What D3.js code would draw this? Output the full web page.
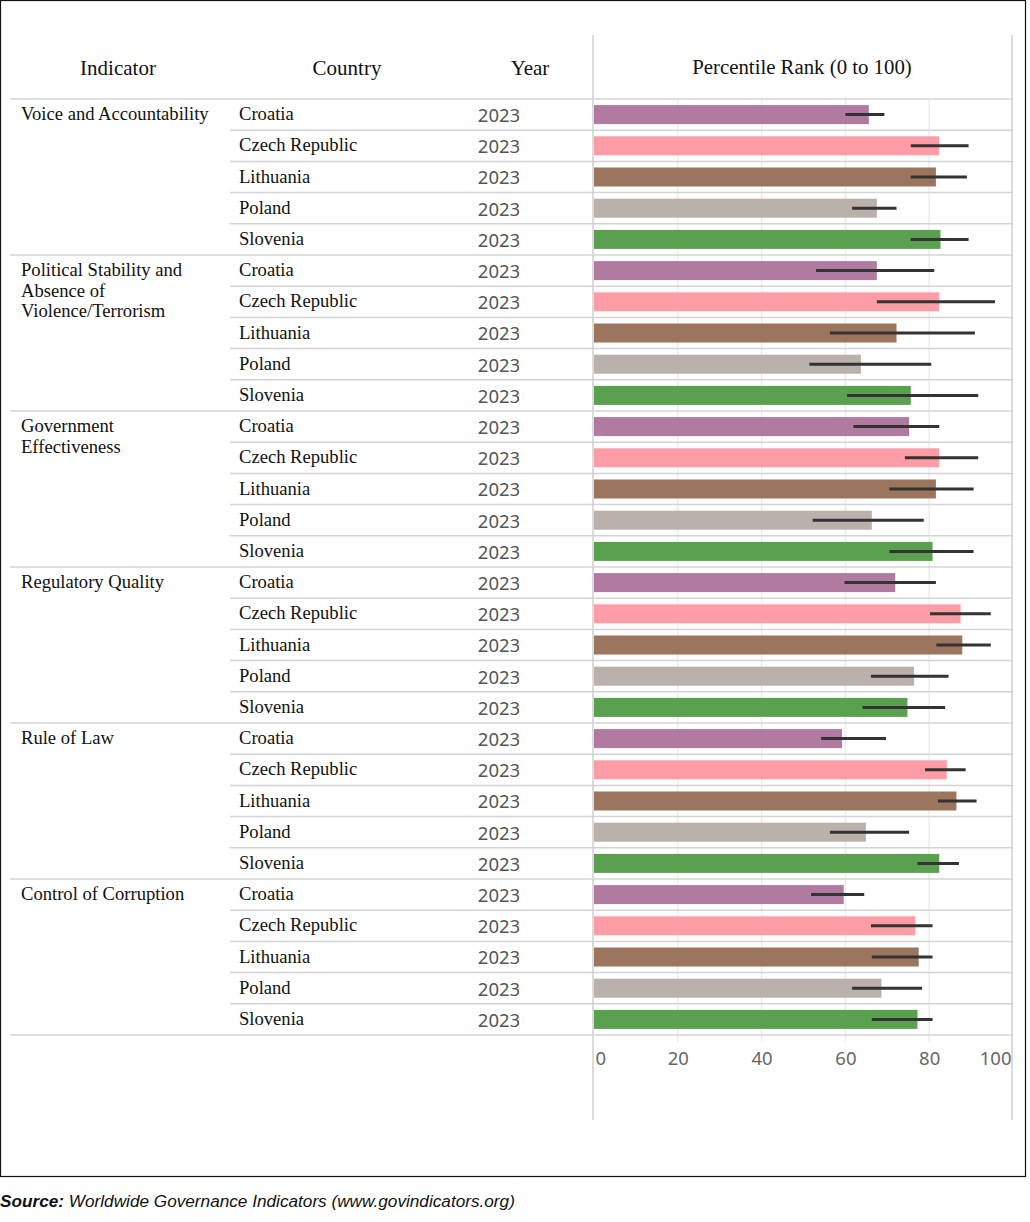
<!DOCTYPE html>
<html>
<head>
<meta charset="utf-8">
<script src="https://cdn.jsdelivr.net/npm/d3@7"></script>
<style>
  body { margin: 0; background: #fff; }
  svg text { font-family: "Liberation Serif", "Times New Roman", serif; }
</style>
</head>
<body>
<svg id="chart" width="1030" height="1222"></svg>
<script>
// indicators, countries and the percentile ranks with their ranges
const indicatorLines = [
  ["Voice and Accountability"],
  ["Political Stability and", "Absence of", "Violence/Terrorism"],
  ["Government", "Effectiveness"],
  ["Regulatory Quality"],
  ["Rule of Law"],
  ["Control of Corruption"]
];
const countries = ["Croatia", "Czech Republic", "Lithuania", "Poland", "Slovenia"];
const year = "2023";
const colors = ["#b07aa1", "#ff9da7", "#9c755f", "#bab0ac", "#59a14f"];

const rank = [
  [65.6, 82.4, 81.6, 67.5, 82.7],
  [67.5, 82.4, 72.2, 63.7, 75.6],
  [75.2, 82.4, 81.6, 66.3, 80.8],
  [71.9, 87.5, 87.9, 76.4, 74.8],
  [59.2, 84.2, 86.5, 64.9, 82.4],
  [59.6, 76.7, 77.5, 68.6, 77.2]
];
const lower = [
  [60.0, 75.6, 75.6, 61.6, 75.6],
  [53.0, 67.5, 56.3, 51.4, 60.4],
  [61.9, 74.2, 70.5, 52.2, 70.5],
  [59.8, 80.2, 81.7, 66.1, 64.1],
  [54.2, 79.0, 82.1, 56.3, 77.2],
  [51.8, 66.1, 66.3, 61.6, 66.3]
];
const upper = [
  [69.3, 89.4, 89.0, 72.2, 89.4],
  [81.2, 95.7, 90.9, 80.5, 91.7],
  [82.4, 91.7, 90.6, 78.7, 90.6],
  [81.6, 94.7, 94.7, 84.6, 83.8],
  [69.7, 88.7, 91.3, 75.2, 87.1],
  [64.5, 80.8, 80.8, 78.3, 80.8]
];
const xTicks = [0, 20, 40, 60, 80, 100];

const rows = [];
indicatorLines.forEach((lines, i) => {
  countries.forEach((c, j) => {
    rows.push({ key: i + "-" + j, ind: i, ci: j, country: c,
      value: rank[i][j], lo: lower[i][j], hi: upper[i][j] });
  });
});

const svg = d3.select("#chart");
const x = d3.scaleLinear().domain([0, 100]).range([594, 1013]);
const y = d3.scaleBand().domain(rows.map(d => d.key)).range([99, 1035]).paddingInner(0);

// outer frame
svg.append("rect").attr("x", 0.5).attr("y", 0.5).attr("width", 1025).attr("height", 1176)
  .attr("fill", "none").attr("stroke", "#111").attr("stroke-width", 1.2);

// gridlines
svg.append("g").selectAll("line").data(xTicks.slice(1, -1)).join("line")
  .attr("x1", d => x(d)).attr("x2", d => x(d))
  .attr("y1", 99).attr("y2", 1042)
  .attr("stroke", "#ececec").attr("stroke-width", 1.5);

// row separators
svg.append("g").selectAll("line").data(rows).join("line")
  .attr("x1", d => d.ci === 0 ? 10 : 230)
  .attr("x2", 1013)
  .attr("y1", d => y(d.key)).attr("y2", d => y(d.key))
  .attr("stroke", "#d4d4d4").attr("stroke-width", 1.5);
svg.append("line").attr("x1", 10).attr("x2", 1013).attr("y1", 1035).attr("y2", 1035)
  .attr("stroke", "#d4d4d4").attr("stroke-width", 1.5);

// vertical frame lines of the chart pane
svg.append("g").selectAll("line").data([0, 100]).join("line")
  .attr("x1", d => x(d) - 1).attr("x2", d => x(d) - 1)
  .attr("y1", 35).attr("y2", 1120)
  .attr("stroke", "#cfcfcf").attr("stroke-width", 1.5);

// headers
const header = [["Indicator", 118], ["Country", 347], ["Year", 530]];
svg.append("g").selectAll("text").data(header).join("text")
  .attr("x", d => d[1]).attr("y", 68).attr("dy", "0.35em")
  .attr("text-anchor", "middle").attr("font-size", 21).attr("fill", "#111")
  .text(d => d[0]);
svg.append("text").attr("x", 802).attr("y", 67).attr("dy", "0.35em")
  .attr("text-anchor", "middle").attr("font-size", 20.8).attr("fill", "#111")
  .text("Percentile Rank (0 to 100)");

// indicator labels
indicatorLines.forEach((lines, i) => {
  const y0 = y(i + "-0") + y.bandwidth() / 2;
  svg.append("text").attr("x", 21).attr("y", y0).attr("font-size", 18.6).attr("fill", "#111")
    .selectAll("tspan").data(lines).join("tspan")
    .attr("x", 21).attr("y", (d, k) => y0 + k * 20.5).attr("dy", "0.3em")
    .text(d => d);
});

// country and year
svg.append("g").selectAll("text").data(rows).join("text")
  .attr("x", 239).attr("y", d => y(d.key) + y.bandwidth() / 2).attr("dy", "0.3em")
  .attr("font-size", 18.6).attr("fill", "#111").text(d => d.country);
svg.append("g").selectAll("text").data(rows).join("text")
  .attr("x", 499).attr("y", d => y(d.key) + y.bandwidth() / 2 + 1).attr("dy", "0.35em")
  .attr("text-anchor", "middle").attr("font-size", 18.5).attr("fill", "#555")
  .style("font-family", "'Noto Sans', sans-serif").text(year);

// bars
svg.append("g").selectAll("rect").data(rows).join("rect")
  .attr("x", x(0)).attr("y", d => y(d.key) + (y.bandwidth() - 19) / 2)
  .attr("width", d => x(d.value) - x(0)).attr("height", 19)
  .attr("fill", d => colors[d.ci]);

// ranges
svg.append("g").selectAll("line").data(rows).join("line")
  .attr("x1", d => x(d.lo)).attr("x2", d => x(d.hi))
  .attr("y1", d => y(d.key) + y.bandwidth() / 2).attr("y2", d => y(d.key) + y.bandwidth() / 2)
  .attr("stroke", "#333").attr("stroke-width", 3);

// axis
const axis = svg.append("g").attr("transform", "translate(0,1035)")
  .call(d3.axisBottom(x).tickValues(xTicks).tickSize(0).tickPadding(0));
axis.select(".domain").remove();
axis.selectAll("text")
  .attr("y", 24).attr("dy", "0.35em")
  .attr("font-size", 18.5).attr("fill", "#666")
  .style("font-family", "'Noto Sans', sans-serif")
  .attr("text-anchor", d => d === 0 ? "start" : d === 100 ? "end" : "middle")
  .attr("dx", d => d === 0 ? 1 : d === 100 ? -2 : 0);

// source note
const src = svg.append("text").attr("x", 0).attr("y", 1207)
  .attr("font-size", 17.2).attr("font-style", "italic").attr("fill", "#111")
  .style("font-family", "'Liberation Sans', Arial, sans-serif");
src.append("tspan").attr("font-weight", "bold").text("Source:");
src.append("tspan").text(" Worldwide Governance Indicators (www.govindicators.org)");
</script>
</body>
</html>
